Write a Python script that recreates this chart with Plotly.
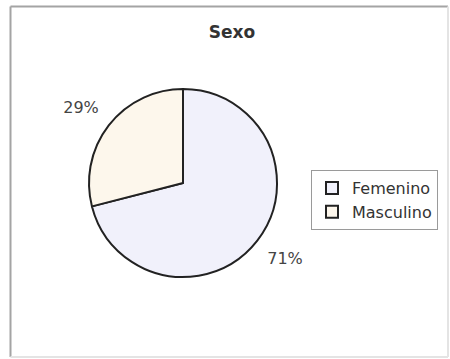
import plotly.graph_objects as go

# Gender split of respondents
categories = ["Femenino", "Masculino"]
shares = [71, 29]
slice_colors = ["#F1F1FB", "#FDF7EC"]
# Outside labels nudged away from the rim
label_templates = ["\u00a0<br>%{percent:.0%}", "%{percent:.0%}<br>\u00a0"]

W, H = 450, 359
FONT = "DejaVu Sans, Verdana, sans-serif"

fig = go.Figure(
    go.Pie(
        labels=categories,
        values=shares,
        sort=False,
        direction="clockwise",
        rotation=0,
        marker=dict(colors=slice_colors, line=dict(color="#222222", width=2)),
        textinfo="percent",
        texttemplate=label_templates,
        textposition="outside",
        outsidetextfont=dict(family=FONT, size=16, color="#444444"),
        domain=dict(x=[88 / W, 278 / W], y=[1 - 277 / H, 1 - 89 / H]),
        hoverinfo="label+percent",
    )
)

frame_dark = "#a4a4a4"
frame_light = "#e4e4e4"


def edge(x0, y0, x1, y1, color):
    return dict(
        type="line",
        xref="paper",
        yref="paper",
        x0=x0 / W,
        x1=x1 / W,
        y0=1 - y0 / H,
        y1=1 - y1 / H,
        line=dict(color=color, width=2),
        layer="below",
    )


fig.update_layout(
    width=W,
    height=H,
    margin=dict(l=0, r=0, t=0, b=0),
    paper_bgcolor="white",
    plot_bgcolor="white",
    font=dict(family=FONT, color="#333333"),
    title=dict(
        text="<b>Sexo</b>",
        x=232 / W,
        xanchor="center",
        y=1 - 32 / H,
        yanchor="middle",
        font=dict(size=17, color="#333333"),
    ),
    legend=dict(
        x=311 / W,
        y=1 - 170 / H,
        xanchor="left",
        yanchor="top",
        bordercolor="#9a9a9a",
        borderwidth=1,
        bgcolor="white",
        font=dict(size=16, color="#333333"),
    ),
    shapes=[
        edge(10.5, 6.5, 10.5, 357, frame_dark),
        edge(10.5, 6.5, 448, 6.5, frame_dark),
        edge(448, 6.5, 448, 357, frame_light),
        edge(10.5, 357, 448, 357, frame_light),
    ],
)

fig.write_html("out.html")
